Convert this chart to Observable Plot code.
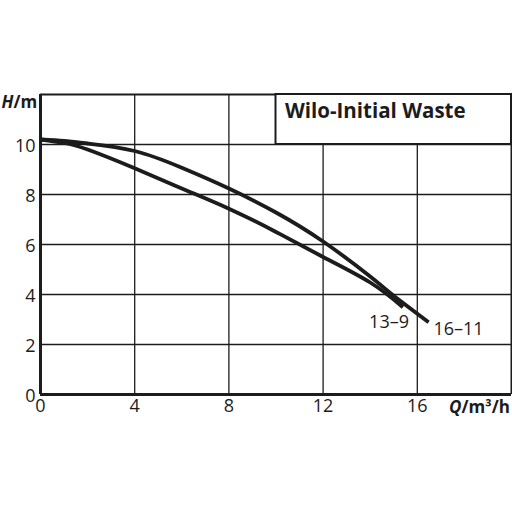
<!DOCTYPE html>
<html>
<head>
<meta charset="utf-8">
<script src="https://cdn.jsdelivr.net/npm/d3@7"></script>
<script src="https://cdn.jsdelivr.net/npm/@observablehq/plot@0.6"></script>
<style>
  html, body { margin: 0; padding: 0; background: #fff; }
  #chart svg { display: block; }
</style>
</head>
<body>
<div id="chart"></div>
<script>
// Data
const qUpper = [0, 1, 2, 4, 6, 8, 10, 12, 14, 15, 16.48];
const hUpper = [10.2, 10.14, 10.04, 9.74, 9.07, 8.24, 7.28, 6.12, 4.72, 3.95, 2.89];
const qLower = [0, 1, 2, 4, 6, 8, 10, 12, 14, 15.39];
const hLower = [10.2, 10.06, 9.8, 9.05, 8.24, 7.43, 6.5, 5.5, 4.48, 3.49];
const seriesNames = ["16–11", "13–9"];
const xTicks = [0, 4, 8, 12, 16];
const yTicks = [0, 2, 4, 6, 8, 10];
const title = "Wilo-Initial Waste";

const rows = [
  ...qUpper.map((q, i) => ({series: seriesNames[0], q, h: hUpper[i]})),
  ...qLower.map((q, i) => ({series: seriesNames[1], q, h: hLower[i]}))
];
const seriesLabels = [
  {name: seriesNames[1], q: 14.8, h: 2.9},
  {name: seriesNames[0], q: 17.75, h: 2.62}
];

const ink = "#1c1c1c";
const font = "Open Sans, Noto Sans, sans-serif";

const chart = Plot.plot({
  width: 512,
  height: 512,
  marginLeft: 40,
  marginRight: 1,
  marginTop: 94,
  marginBottom: 118,
  style: {fontFamily: font, color: ink, background: "#fff", overflow: "visible"},
  x: {domain: [0, 20]},
  y: {domain: [0, 12]},
  marks: [
    Plot.gridX(xTicks.filter(d => d > 0), {stroke: ink, strokeOpacity: 1, strokeWidth: 1.3}),
    Plot.gridY(yTicks.filter(d => d > 0), {stroke: ink, strokeOpacity: 1, strokeWidth: 1.3}),
    Plot.ruleY([12], {stroke: ink, strokeWidth: 2}),
    Plot.ruleX([20], {stroke: ink, strokeWidth: 2}),
    Plot.rect([{x1: 10, x2: 20, y1: 10, y2: 12}], {x1: "x1", x2: "x2", y1: "y1", y2: "y2", fill: "#fff", stroke: ink, strokeWidth: 2}),
    Plot.text([title], {x: 10.38, y: 11.34, text: d => d, textAnchor: "start", fontWeight: "bold", fontSize: 20.5, fill: ink}),
    Plot.ruleX([0], {stroke: ink, strokeWidth: 3}),
    Plot.ruleY([0], {stroke: ink, strokeWidth: 3}),
    Plot.axisY(yTicks, {tickSize: 0, tickPadding: 5, fontSize: 18, dy: 2, label: null, fill: ink}),
    Plot.axisX(xTicks, {tickSize: 0, tickPadding: 5, fontSize: 18, label: null, fill: ink}),
    Plot.line(rows, {x: "q", y: "h", z: "series", stroke: ink, strokeWidth: 3.8, curve: "natural", strokeLinecap: "butt"}),
    Plot.text(seriesLabels, {x: "q", y: "h", text: "name", fontSize: 18, fill: ink}),
    // axis labels
    Plot.text(["H"], {x: 0, y: 11.68, text: d => d, dx: -27, textAnchor: "end", fontWeight: "bold", fontStyle: "italic", fontSize: 17, fill: ink}),
    Plot.text(["/m"], {x: 0, y: 11.68, text: d => d, dx: -27, textAnchor: "start", fontWeight: "bold", fontSize: 17, fill: ink}),
    Plot.text(["Q"], {x: 20, y: 0, text: d => d, dx: -50, dy: 13, textAnchor: "end", fontWeight: "bold", fontStyle: "italic", fontSize: 17, fill: ink}),
    Plot.text(["/m³/h"], {x: 20, y: 0, text: d => d, dx: -50, dy: 13, textAnchor: "start", fontWeight: "bold", fontSize: 17, fill: ink})
  ]
});
document.getElementById("chart").append(chart);
</script>
</body>
</html>
